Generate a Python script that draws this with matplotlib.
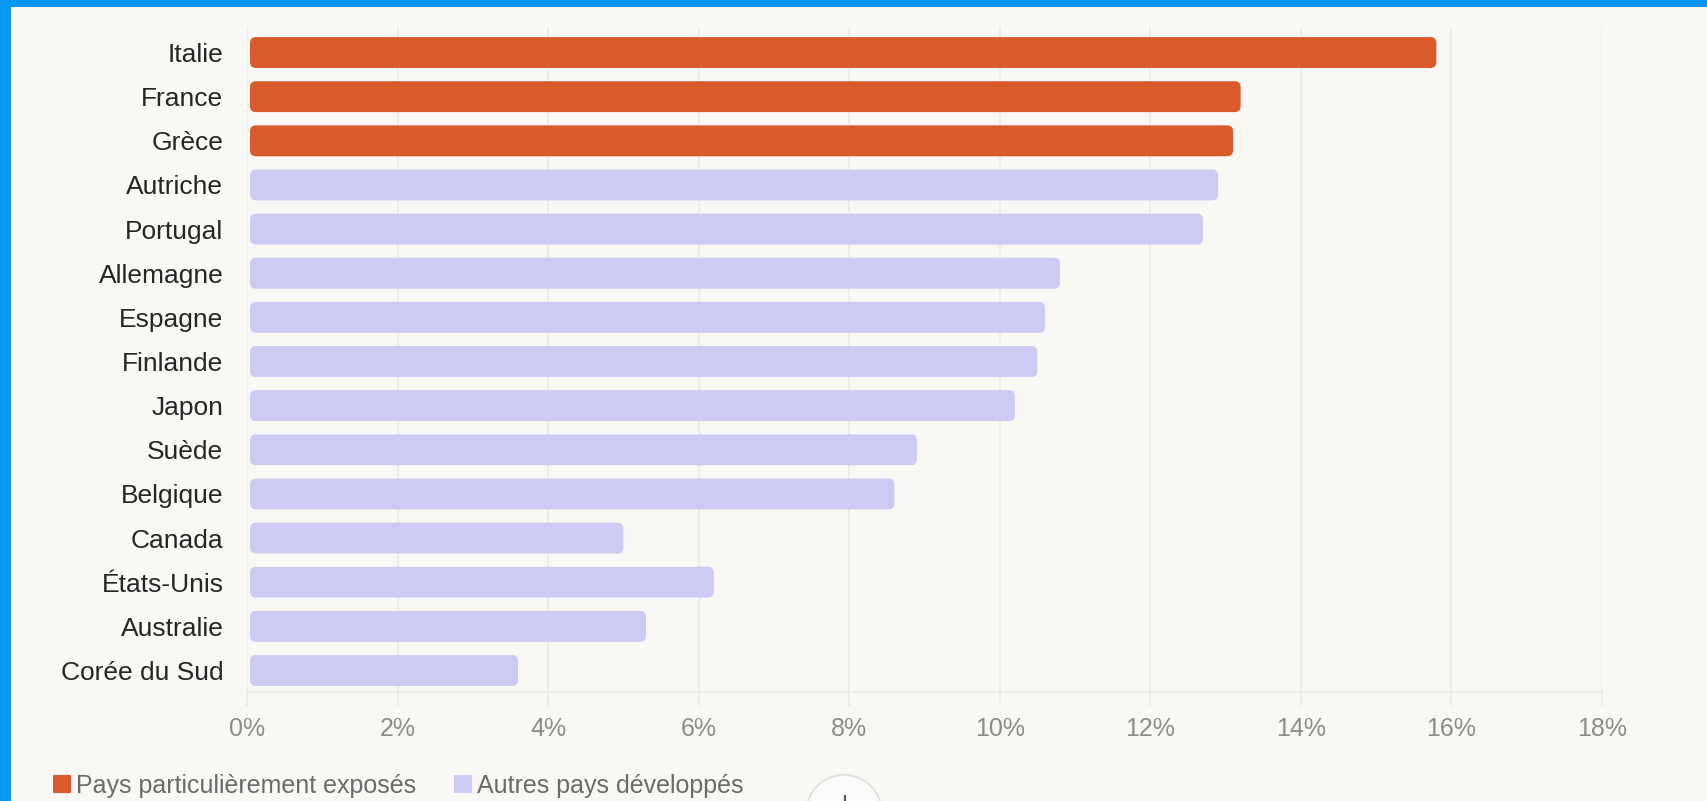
import matplotlib
matplotlib.use("Agg")
import matplotlib.pyplot as plt
from matplotlib.patches import FancyBboxPatch, Patch, Ellipse, Rectangle
from matplotlib.lines import Line2D

# ---- data ----
countries = ["Italie", "France", "Grèce", "Autriche", "Portugal", "Allemagne",
             "Espagne", "Finlande", "Japon", "Suède", "Belgique", "Canada",
             "États-Unis", "Australie", "Corée du Sud"]
values = [15.8, 13.2, 13.1, 12.9, 12.7, 10.8, 10.6, 10.5, 10.2, 8.9, 8.6,
          5.0, 6.2, 5.3, 3.6]
groups = ["exposed", "exposed", "exposed"] + ["other"] * 12
xticks = [0, 2, 4, 6, 8, 10, 12, 14, 16, 18]
xtick_labels = [f"{t}%" for t in xticks]
legend_labels = ["Pays particulièrement exposés", "Autres pays développés"]

# ---- style ----
BLUE = "#0997f2"
BG = "#f9f8f5"
ORANGE = "#d95b2d"
LAVENDER = "#cdcaf4"
GRID = "#ebe9e5"
colors = {"exposed": ORANGE, "other": LAVENDER}

W, H = 1707, 801
fig = plt.figure(figsize=(W / 100, H / 100), dpi=100, facecolor=BLUE)
plt.rcParams["font.family"] = ["Liberation Sans", "DejaVu Sans"]

# light panel
fig.patches.append(Rectangle((11 / W, 0), 1 - 11 / W, 1 - 7 / H,
                             transform=fig.transFigure, facecolor=BG,
                             edgecolor="none", zorder=-5))

left, right = 247 / W, 1602 / W
bottom, top = (H - 692) / H, (H - 27) / H
ax = fig.add_axes([left, bottom, right - left, top - bottom])
ax.set_zorder(2)
ax.patch.set_visible(False)

n = len(countries)
ylo, yhi = n - 1 + 0.487, -0.578
ax.set_xlim(0, 18)
ax.set_ylim(ylo, yhi)

# rounded bars
px_x = (right - left) * W / 18
px_y = (top - bottom) * H / abs(ylo - yhi)
aspect = px_x / px_y
r = 6 / px_x
bar_h = 0.70
for i, (v, g) in enumerate(zip(values, groups)):
    p = FancyBboxPatch((0.04, i - bar_h / 2), v - 0.04, bar_h,
                       boxstyle=f"round,pad=0,rounding_size={r}",
                       mutation_aspect=aspect, facecolor=colors[g],
                       edgecolor="none", zorder=3)
    ax.add_patch(p)

ax.set_yticks(range(n))
ax.set_yticklabels(countries, fontsize=19, color="#262626")
ax.tick_params(axis="y", length=0, pad=17)

ax.set_xticks(xticks)
ax.set_xticklabels(xtick_labels, fontsize=18, color="#8c8c8c")
ax.tick_params(axis="x", length=10, width=1.1, color=GRID, pad=8)

ax.grid(axis="x", color=GRID, linewidth=1.1)
ax.set_axisbelow(True)
for s in ["top", "right", "left"]:
    ax.spines[s].set_visible(False)
ax.spines["bottom"].set_color(GRID)
ax.spines["bottom"].set_linewidth(1.2)

# legend
handles = [Patch(facecolor=ORANGE, edgecolor="none"),
           Patch(facecolor=LAVENDER, edgecolor="none")]
leg = fig.legend(handles, legend_labels, loc="center left",
                 bbox_to_anchor=(53 / W, (H - 786) / H), ncol=2,
                 frameon=False, fontsize=18, handlelength=0.7,
                 handleheight=0.75, handletextpad=0.2, columnspacing=1.55,
                 borderaxespad=0, borderpad=0)
for t in leg.get_texts():
    t.set_color("#6b6b6b")

# partial round button at bottom
fig.patches.append(Ellipse((844 / W, (H - 813) / H), 76 / W, 76 / H,
                           transform=fig.transFigure, facecolor="#fbfbfa",
                           edgecolor="#e2e2e2", linewidth=1.5, zorder=1))
fig.lines.append(Line2D([845 / W, 845 / W], [(H - 801) / H, (H - 796) / H],
                        transform=fig.transFigure, color="#555555",
                        linewidth=1.5, zorder=1.5))

fig.savefig("out.png", dpi=100, facecolor=BLUE)
